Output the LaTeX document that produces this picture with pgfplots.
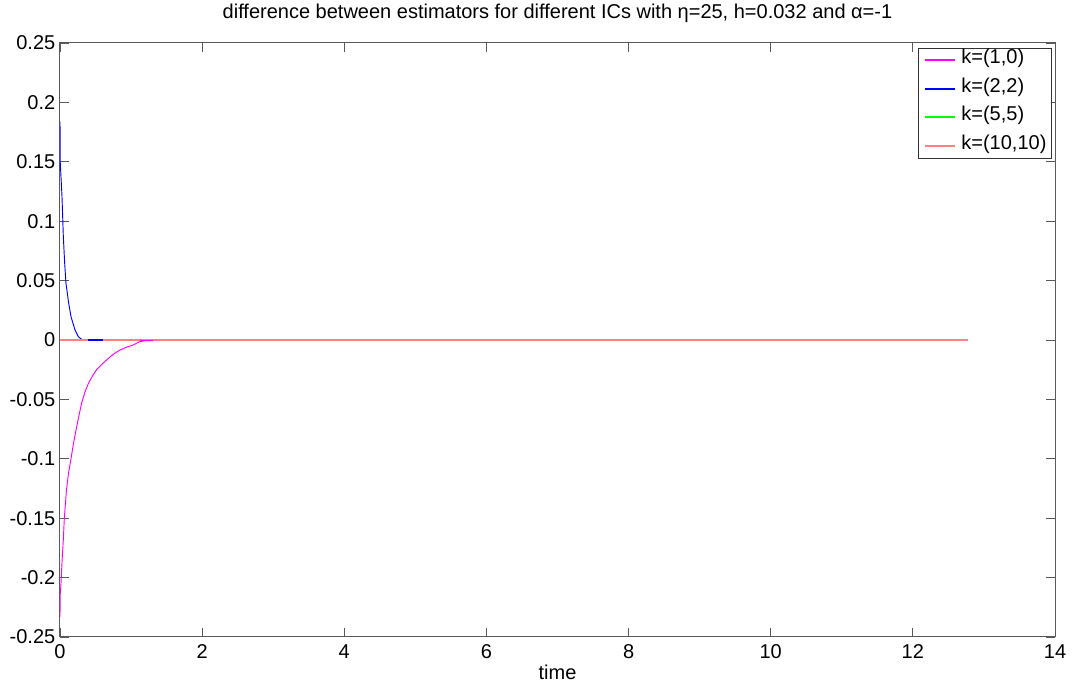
\documentclass[border=0pt]{standalone}
\usepackage{fontspec}
\setmainfont{Liberation Sans}
\usepackage{pgfplots}
\pgfplotsset{compat=1.18}
\definecolor{axgray}{rgb}{0.35,0.35,0.35}
\definecolor{mmag}{rgb}{1,0,1}
\definecolor{mblue}{rgb}{0,0,1}
\definecolor{mgreen}{rgb}{0,1,0}
\definecolor{mred}{rgb}{1,0.5,0.5}
\begin{document}
\begin{tikzpicture}
\begin{axis}[
  name=ax,
  scale only axis,
  width=746.25pt, height=445.5pt,
  xmin=0, xmax=14, ymin=-0.25, ymax=0.25,
  xtick={0,2,4,6,8,10,12,14},
  xticklabels={0,2,4,6,8,10,12,14},
  ytick={-0.25,-0.2,-0.15,-0.1,-0.05,0,0.05,0.1,0.15,0.2,0.25},
  yticklabels={-0.25,-0.2,-0.15,-0.1,-0.05,0,0.05,0.1,0.15,0.2,0.25},
  /pgf/number format/assume math mode=true,
  tick align=inside,
  major tick length=6.75pt,
  axis line style={axgray, line width=0.75pt},
  every tick/.style={axgray, line width=0.6pt},
  font=\fontsize{15}{18}\selectfont,
  tick label style={font=\fontsize{15}{18}\selectfont},
  xticklabel style={anchor=base, yshift=-16.5pt},
  xlabel={time},
  xlabel style={at={(0.5,0)}, anchor=base, yshift=-32.25pt, font=\fontsize{15}{18}\selectfont},
  title={difference between estimators for different ICs with η=25, h=0.032 and α=-1},
  title style={at={(0.5,1)}, anchor=base, yshift=12.2pt, font=\fontsize{15}{18}\selectfont},
  legend cell align=left,
  legend style={at={(0.997,0.9916)}, anchor=north east, draw=black!80, fill=white,
    font=\fontsize{15}{18}\selectfont, inner xsep=2.5pt, inner ysep=2.5pt, row sep=8.4pt,
    nodes={inner sep=1.5pt, text height=0.75em, text depth=0.25em}},
  legend image code/.code={\path (-2pt,0pt); \draw[#1, line width=1.3pt] (0pt,0pt) -- (22.5pt,0pt); \path (25pt,0pt);},
]
\addplot[mmag, line width=0.7pt] coordinates {
(0,-0.233) (0.002,-0.215) (0.014,-0.205) (0.03,-0.185) (0.047,-0.168) (0.061,-0.150)
(0.09,-0.127) (0.12,-0.112) (0.155,-0.100) (0.19,-0.087) (0.225,-0.076) (0.265,-0.064)
(0.305,-0.053) (0.35,-0.044) (0.4,-0.0365) (0.46,-0.030) (0.516,-0.025) (0.58,-0.021)
(0.657,-0.0168) (0.75,-0.012) (0.844,-0.0084) (0.94,-0.006) (1.03,-0.0042) (1.12,-0.0015)
(1.2,-0.0006) (1.31,-0.0006)};
\addlegendentry{k=(1,0)}
\addplot[mblue, line width=0.7pt] coordinates {
(0,0.184) (0.004,0.149) (0.028,0.121) (0.047,0.087) (0.066,0.0645) (0.084,0.0477)
(0.122,0.031) (0.155,0.0196) (0.211,0.0084) (0.258,0.0028) (0.305,0.0005) (0.40,0.0) (0.61,0.0)};
\addlegendentry{k=(2,2)}
\addplot[mgreen, line width=0.5pt] coordinates {
(0,0) (0.5,0) (1,0) (1.5,0) (2,0) (2.5,0)};
\addlegendentry{k=(5,5)}
\addplot[mred, line width=1pt] coordinates {
(0,0) (2,0) (4,0) (6,0) (8,0) (10,0) (12,0) (12.78,0)};
\addlegendentry{k=(10,10)}
\addplot[mblue, line width=1pt, forget plot] coordinates {(0.40,0.0) (0.61,0.0)};
\addplot[mmag, line width=1pt, forget plot] coordinates {(1.12,-0.0005) (1.31,-0.0005)};
\end{axis}
\pgfresetboundingbox
\path ([xshift=-45pt,yshift=-36.75pt]ax.south west) rectangle ([xshift=14.25pt,yshift=32.25pt]ax.north east);
\end{tikzpicture}
\end{document}
